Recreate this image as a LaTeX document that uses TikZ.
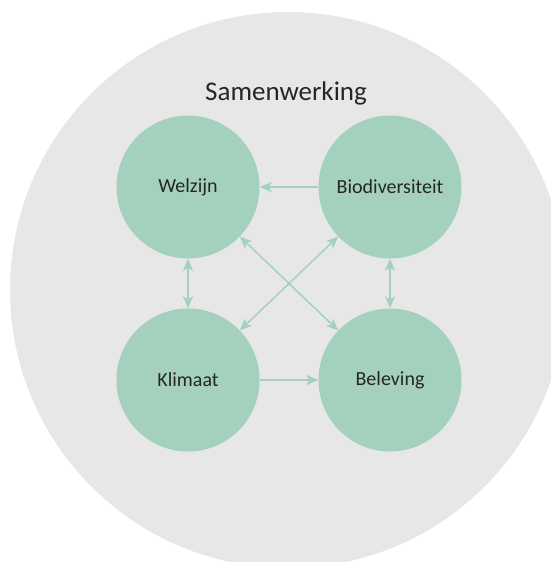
\documentclass[tikz,border=0pt]{standalone}
\usepackage{fontspec}
\setmainfont{Carlito}
\usetikzlibrary{arrows.meta}
\definecolor{themeGreen}{HTML}{A3D1BE}
\definecolor{backGrey}{HTML}{E7E7E7}
\begin{document}
\begin{tikzpicture}[x=1pt, y=-1pt,
                    themeStyle/.style={circle, fill=themeGreen, minimum size=143pt, inner sep=0pt, text=black!85, font=\fontsize{20}{24}\selectfont},
                    tipStyle/.style={Stealth[length=12pt, width=10pt, inset=3pt]},
                    linkStyle/.style={draw=themeGreen, line width=1.5pt, -{Stealth[length=12pt, width=10pt, inset=3pt]}},
                    bothStyle/.style={linkStyle, {Stealth[length=12pt, width=10pt, inset=3pt]}-{Stealth[length=12pt, width=10pt, inset=3pt]}}]
                    \useasboundingbox (0,0) rectangle (551,562);
                    \clip (0,0) rectangle (551,562);
                    \fill[backGrey] (288,290) circle (278pt);

                    \node[text=black!85, font=\fontsize{27}{32}\selectfont](title) at (286, 93) {Samenwerking};
                    \node[themeStyle](welzijn) at (188, 187) {Welzijn};
                    \node[themeStyle](bio) at (390, 187) {Biodiversiteit};
                    \node[themeStyle](klimaat) at (188, 380) {Klimaat};
                    \node[themeStyle](beleving) at (390, 380) {Beleving};

                    \draw[linkStyle] (bio) -- (welzijn);
                    \draw[linkStyle] (klimaat) -- (beleving);
                    \draw[bothStyle] (welzijn) -- (klimaat);
                    \draw[bothStyle] (bio) -- (beleving);
                    \draw[bothStyle] (welzijn) -- (beleving);
                    \draw[bothStyle] (bio) -- (klimaat);
                \end{tikzpicture}
\end{document}
